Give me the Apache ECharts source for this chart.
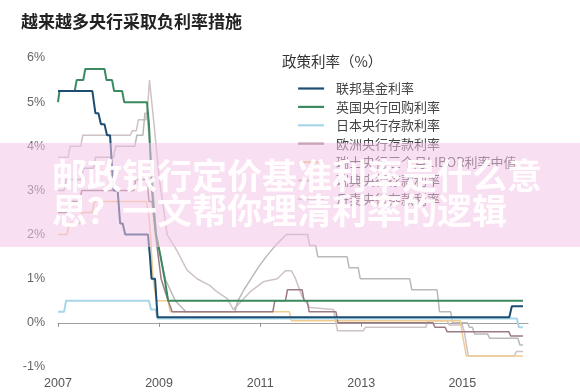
<!DOCTYPE html>
<html><head><meta charset="utf-8">
<script src="https://cdn.jsdelivr.net/npm/echarts@6/dist/echarts.min.js"></script>
<style>html,body{margin:0;padding:0;background:#fff}#c{width:580px;height:392px}</style>
</head><body><div id="c"></div>
<script>
const chartTitle = '越来越多央行采取负利率措施';
const legendTitle = '政策利率（%）';
const seriesNames = ['联邦基金利率','英国央行回购利率','日本央行存款利率','欧洲央行存款利率','瑞士央行三个月LIBOR利率中值','瑞典央行存款利率','丹麦央行存款利率'];
const seriesColors = ['#1e4d72','#3b8a5f','#a8d6e8','#9c7a84','#f0cb92','#b9b9b9','#cfc2c7'];
const xTickYears = [2007, 2009, 2011, 2013, 2015];

const fedFunds = [[2007.0,5.25],[2007.68,5.25],[2007.74,4.75],[2007.8,4.75],[2007.85,4.5],[2007.92,4.5],[2007.97,4.25],[2008.03,4.25],[2008.07,3.5],[2008.1,3.0],[2008.18,3.0],[2008.23,2.25],[2008.28,2.25],[2008.33,2.0],[2008.78,2.0],[2008.82,1.5],[2008.85,1.0],[2008.92,1.0],[2008.97,0.125],[2015.93,0.125],[2015.98,0.375],[2016.2,0.375]];
const boeRepo = [[2007.0,5.0],[2007.03,5.25],[2007.33,5.25],[2007.37,5.5],[2007.5,5.5],[2007.54,5.75],[2007.92,5.75],[2007.96,5.5],[2008.07,5.5],[2008.11,5.25],[2008.27,5.25],[2008.31,5.0],[2008.76,5.0],[2008.8,4.5],[2008.86,3.0],[2008.94,2.0],[2009.03,1.5],[2009.11,1.0],[2009.18,0.5],[2016.2,0.5]];
const bojDeposit = [[2007.0,0.25],[2007.12,0.25],[2007.16,0.5],[2008.8,0.5],[2008.84,0.3],[2008.93,0.3],[2008.97,0.1],[2016.08,0.1],[2016.12,-0.1],[2016.2,-0.1]];
const ecbDeposit = [[2007.0,2.5],[2007.18,2.5],[2007.22,2.75],[2007.43,2.75],[2007.47,3.0],[2008.5,3.0],[2008.54,3.25],[2008.76,3.25],[2008.8,2.75],[2008.86,2.75],[2008.93,2.0],[2009.04,1.0],[2009.18,0.5],[2009.26,0.25],[2011.25,0.25],[2011.29,0.5],[2011.5,0.5],[2011.54,0.75],[2011.83,0.75],[2011.87,0.5],[2011.93,0.5],[2011.97,0.25],[2012.5,0.25],[2012.54,0.0],[2014.42,0.0],[2014.46,-0.1],[2014.66,-0.1],[2014.7,-0.2],[2015.92,-0.2],[2015.96,-0.3],[2016.2,-0.3]];
const snbLibor = [[2007.0,2.0],[2007.18,2.0],[2007.22,2.25],[2007.43,2.25],[2007.47,2.5],[2007.68,2.5],[2007.72,2.75],[2008.75,2.75],[2008.79,2.5],[2008.83,2.0],[2008.88,1.0],[2008.95,0.5],[2009.18,0.5],[2009.22,0.25],[2011.58,0.25],[2011.62,0.05],[2014.96,0.05],[2015.0,-0.25],[2015.03,-0.25],[2015.08,-0.75],[2016.2,-0.75]];
const riksbank = [[2007.0,3.0],[2007.12,3.0],[2007.16,3.25],[2007.46,3.25],[2007.5,3.5],[2007.7,3.5],[2007.74,3.75],[2008.1,3.75],[2008.14,4.0],[2008.52,4.0],[2008.56,4.25],[2008.68,4.25],[2008.72,4.75],[2008.76,4.75],[2008.8,4.25],[2008.84,3.75],[2008.94,2.0],[2009.12,1.0],[2009.32,0.5],[2009.53,0.25],[2010.5,0.25],[2010.56,0.5],[2010.68,0.75],[2010.82,1.0],[2010.96,1.25],[2011.12,1.5],[2011.3,1.75],[2011.52,2.0],[2011.94,2.0],[2011.98,1.75],[2012.1,1.75],[2012.14,1.5],[2012.72,1.5],[2012.76,1.25],[2012.94,1.25],[2012.98,1.0],[2013.96,1.0],[2014.0,0.75],[2014.5,0.75],[2014.55,0.25],[2014.77,0.25],[2014.81,0.0],[2015.1,0.0],[2015.14,-0.1],[2015.2,-0.1],[2015.24,-0.25],[2015.5,-0.25],[2015.54,-0.35],[2016.1,-0.35],[2016.14,-0.5],[2016.2,-0.5]];
const danish = [[2007.0,3.75],[2007.2,3.75],[2007.24,4.0],[2007.45,4.0],[2007.49,4.25],[2008.43,4.25],[2008.47,4.35],[2008.55,4.35],[2008.59,4.6],[2008.74,4.6],[2008.78,5.0],[2008.81,5.5],[2008.84,5.5],[2008.9,4.5],[2009.0,3.3],[2009.16,2.0],[2009.37,1.6],[2009.55,1.2],[2009.75,1.0],[2010.0,0.85],[2010.15,0.7],[2010.35,0.55],[2010.47,0.3],[2010.8,0.7],[2011.06,0.93],[2011.34,1.0],[2011.5,1.18],[2011.62,1.18],[2011.7,1.0],[2011.83,0.6],[2011.98,0.35],[2012.45,0.3],[2012.53,-0.18],[2013.04,-0.18],[2013.08,-0.1],[2014.28,-0.1],[2014.32,0.05],[2014.7,0.05],[2014.74,-0.05],[2015.0,-0.05],[2015.04,-0.2],[2015.08,-0.5],[2015.12,-0.75],[2016.03,-0.75],[2016.07,-0.65],[2016.2,-0.65]];

const seriesData = [fedFunds, boeRepo, bojDeposit, ecbDeposit, snbLibor, riksbank, danish];
const widths = [2, 2, 2, 1.5, 1.5, 1.5, 1.5];
const drawOrder = [6, 5, 4, 3, 2, 1, 0];

const FONT = "'Liberation Sans','Noto Sans CJK SC',sans-serif";
const chart = echarts.init(document.getElementById('c'), null, {renderer:'canvas'});
const series = drawOrder.map(i => ({
  name: seriesNames[i], type: 'line', data: seriesData[i], symbol: 'none', showSymbol: false,
  lineStyle: {width: widths[i], color: seriesColors[i]}, itemStyle: {color: seriesColors[i]},
  xAxisIndex: 0, yAxisIndex: 0, z: 2, animation: false
}));
chart.setOption({
  backgroundColor: '#fff',
  animation: false,
  textStyle: {fontFamily: FONT},
  title: [
    {text: chartTitle, left: 16, top: 8, textStyle: {fontSize: 17, fontWeight: 'bold', color: '#222', fontFamily: "'Noto Sans CJK SC',sans-serif"}},
    {text: legendTitle, left: 277, top: 49, textStyle: {fontSize: 14.5, fontWeight: 'normal', color: '#333', fontFamily: "'Noto Sans CJK SC',sans-serif"}}
  ],
  legend: {
    data: seriesNames, orient: 'vertical', left: 297, top: 82, padding: 0,
    itemWidth: 26, itemHeight: 14, itemGap: 5.4,
    lineStyle: {width: 2.2},
    itemStyle: {opacity: 0},
    textStyle: {fontSize: 13, color: '#444', padding: [0,0,0,7], fontFamily: "'Noto Sans CJK SC',sans-serif"},
    selectedMode: false
  },
  grid: {left: 58, right: 52, top: 58, bottom: 25},
  xAxis: [
    {type: 'value', min: 2007, max: 2016.3, position: 'bottom',
     axisLine: {show: false, onZero: false}, axisTick: {show: false}, splitLine: {show: false},
     axisLabel: {customValues: xTickYears, formatter: v => String(v), fontSize: 12.5, color: '#555', margin: 10}},
    {type: 'value', min: 2007, max: 2016.3, position: 'bottom',
     axisLine: {show: true, onZero: true, lineStyle: {color: '#a0a0a0', width: 1}},
     axisTick: {show: true, customValues: xTickYears, length: 4, lineStyle: {color: '#909090'}},
     axisLabel: {show: false}, splitLine: {show: false}}
  ],
  yAxis: {type: 'value', min: -1, max: 6, interval: 1,
    axisLine: {show: false}, axisTick: {show: false}, splitLine: {show: false},
    axisLabel: {formatter: '{value}%', fontSize: 12.5, color: '#666', margin: 13}},
  series: series,
  graphic: [
    {type: 'rect', silent: true, z: 100, shape: {x: 0, y: 143, width: 580, height: 104}, style: {fill: 'rgba(242,196,230,0.55)'}},
    {type: 'text', silent: true, z: 101, left: 52, top: 158, style: {text: '邮政银行定价基准利率是什么意', fill: 'rgba(255,255,255,0.93)', font: "bold 35px 'Noto Sans CJK SC'"}},
    {type: 'text', silent: true, z: 101, left: 52, top: 193, style: {text: '思？一文帮你理清利率的逻辑', fill: 'rgba(255,255,255,0.93)', font: "bold 35px 'Noto Sans CJK SC'"}}
  ]
});
</script></body></html>
